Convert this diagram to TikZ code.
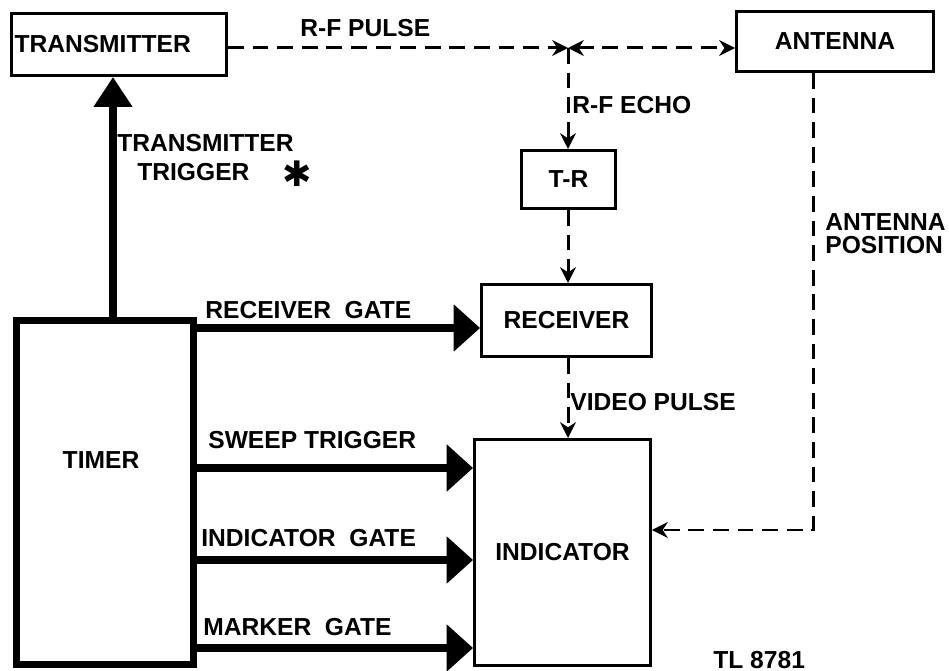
\documentclass[tikz,border=0pt]{standalone}
\usepackage{fontspec}
\setmainfont{Liberation Sans}
\newfontfamily\symfont{DejaVu Sans}
\usetikzlibrary{arrows.meta, calc}
\newcommand{\lettering}{\bfseries\fontsize{14}{13}\selectfont}
\tikzset{
  block/.style={
    draw,
    line width=1.7pt,
    inner sep=0pt,
    font=\lettering
  },
  heavy block/.style={
    block,
    line width=4.2pt
  },
  gate arrow/.style={
    -{Triangle[length=15pt, width=26pt]},
    line width=4pt
  },
  trigger arrow/.style={
    -{Triangle[length=17pt, width=21pt]},
    line width=4.5pt
  },
  signal/.style={
    line width=1.7pt,
    dash pattern=on 9pt off 5pt
  },
  signal tip/.style={
    signal,
    -{Stealth[length=9pt, width=9pt]}
  },
  caption/.style={
    font=\lettering,
    inner sep=0pt,
    anchor=west
  }
}

\begin{document}
\begin{tikzpicture}[x=0.02cm, y=-0.02cm]

  %% ---- frame (949 x 671) ----
  \useasboundingbox (0,0) rectangle (949,671);
  \clip (0,0) rectangle (949,671);

  %% ---- blocks ----
  \node[block, minimum width=4.30cm, minimum height=1.24cm,
        text width=4.18cm, align=left] (tx) at (119,44.5) {TRANSMITTER};
  \node[block, minimum width=3.94cm, minimum height=1.20cm] (ant) at (835,41.5)  {ANTENNA};
  \node[block, minimum width=1.88cm, minimum height=1.16cm] (tr)  at (568.5,179.5) {T-R};
  \node[block, minimum width=3.40cm, minimum height=1.44cm] (rx)  at (566.5,320.5) {RECEIVER};
  \node[block, minimum width=3.52cm, minimum height=4.52cm] (ind) at (562.5,552.5) {INDICATOR};
  \node[heavy block, minimum width=3.54cm, minimum height=6.88cm] (timer) at (105,492.5) {};
  \node[caption, anchor=center] (timertext) at (101,460) {TIMER};

  %% ---- r-f path (dashed) ----
  \coordinate (junc) at (568,48);
  \draw[signal tip] (tx.east |- junc) -- (junc);
  \draw[signal, {Stealth[length=9pt, width=9pt]}-{Stealth[length=9pt, width=9pt]}]
      (junc) -- (ant.west |- junc);
  \draw[signal tip] (junc) -- (tr.north -| junc);
  \draw[signal tip] (tr.south -| junc) -- (rx.north -| junc);
  \draw[signal tip] (rx.south -| junc) -- (ind.north -| junc);

  % antenna position back to the indicator
  \coordinate (bend) at (813,530);
  \draw[signal tip] (ant.south -| bend) -- (bend) -- (ind.east |- bend);

  \node[caption] (rfpulse) at (300,28)  {R-F PULSE};
  \node[caption] (rfecho)  at (572,105) {R-F ECHO};
  \node[caption] (video)   at (570,402) {VIDEO PULSE};
  \node[caption, align=left] (antpos) at (825,234) {ANTENNA\\POSITION};

  %% ---- timer outputs ----
  \draw[trigger arrow] (timer.north -| 113,0) -- (tx.south -| 113,0);
  \node[caption] (trigtext) at (117,143) {TRANSMITTER};
  \node[caption] (trigtext2) at (137,172) {TRIGGER};
  \node[caption, anchor=center] (star) at (297,174)
      {\symfont\bfseries\fontsize{20}{20}\selectfont ✱};

  \draw[gate arrow] (timer.east |- 0,328) -- (rx.west |- 0,328);
  \draw[gate arrow] (timer.east |- 0,468) -- (ind.west |- 0,468);
  \draw[gate arrow] (timer.east |- 0,560) -- (ind.west |- 0,560);
  \draw[gate arrow] (timer.east |- 0,648) -- (ind.west |- 0,648);

  \node[caption] (rxgate)   at (205,310) {RECEIVER\ \ GATE};
  \node[caption] (sweep)    at (208,440) {SWEEP TRIGGER};
  \node[caption] (indgate)  at (201,538) {INDICATOR\ \ GATE};
  \node[caption] (markgate) at (203,627) {MARKER\ \ GATE};

  %% ---- drawing number ----
  \node[caption, anchor=base west] (dwg) at (713,668) {TL 8781};

\end{tikzpicture}
\end{document}
